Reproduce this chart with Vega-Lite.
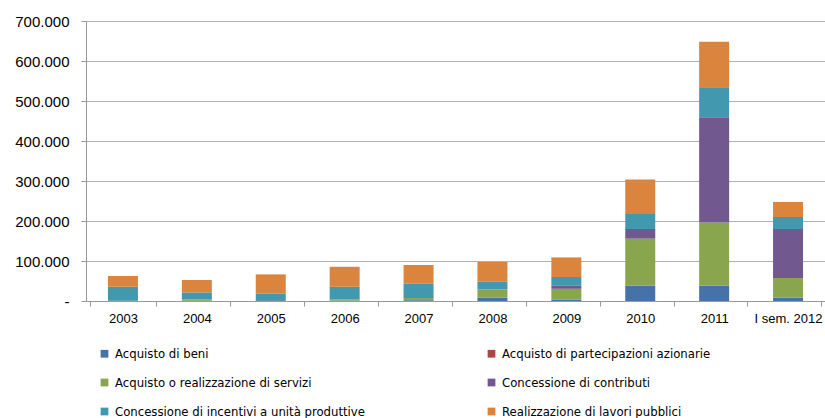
{
  "$schema": "https://vega.github.io/schema/vega-lite/v6.json",
  "width": 739,
  "height": 280,
  "autosize": {"type": "none"},
  "padding": {"left": 86, "top": 21, "right": 0, "bottom": 117},
  "background": "white",
  "config": {
    "view": {"stroke": null},
    "font": "Liberation Sans"
  },
  "data": {
    "values": [
      {"periodo": "2003", "tipo": "Acquisto di beni", "valore": 0},
      {"periodo": "2003", "tipo": "Acquisto di partecipazioni azionarie", "valore": 0},
      {"periodo": "2003", "tipo": "Acquisto o realizzazione di servizi", "valore": 500},
      {"periodo": "2003", "tipo": "Concessione di contributi", "valore": 0},
      {"periodo": "2003", "tipo": "Concessione di incentivi a unità produttive", "valore": 35000},
      {"periodo": "2003", "tipo": "Realizzazione di lavori pubblici", "valore": 27000},

      {"periodo": "2004", "tipo": "Acquisto di beni", "valore": 500},
      {"periodo": "2004", "tipo": "Acquisto di partecipazioni azionarie", "valore": 0},
      {"periodo": "2004", "tipo": "Acquisto o realizzazione di servizi", "valore": 3000},
      {"periodo": "2004", "tipo": "Concessione di contributi", "valore": 0},
      {"periodo": "2004", "tipo": "Concessione di incentivi a unità produttive", "valore": 18000},
      {"periodo": "2004", "tipo": "Realizzazione di lavori pubblici", "valore": 31000},

      {"periodo": "2005", "tipo": "Acquisto di beni", "valore": 2000},
      {"periodo": "2005", "tipo": "Acquisto di partecipazioni azionarie", "valore": 0},
      {"periodo": "2005", "tipo": "Acquisto o realizzazione di servizi", "valore": 500},
      {"periodo": "2005", "tipo": "Concessione di contributi", "valore": 0},
      {"periodo": "2005", "tipo": "Concessione di incentivi a unità produttive", "valore": 16500},
      {"periodo": "2005", "tipo": "Realizzazione di lavori pubblici", "valore": 47500},

      {"periodo": "2006", "tipo": "Acquisto di beni", "valore": 1000},
      {"periodo": "2006", "tipo": "Acquisto di partecipazioni azionarie", "valore": 0},
      {"periodo": "2006", "tipo": "Acquisto o realizzazione di servizi", "valore": 3000},
      {"periodo": "2006", "tipo": "Concessione di contributi", "valore": 500},
      {"periodo": "2006", "tipo": "Concessione di incentivi a unità produttive", "valore": 31000},
      {"periodo": "2006", "tipo": "Realizzazione di lavori pubblici", "valore": 50000},

      {"periodo": "2007", "tipo": "Acquisto di beni", "valore": 2000},
      {"periodo": "2007", "tipo": "Acquisto di partecipazioni azionarie", "valore": 0},
      {"periodo": "2007", "tipo": "Acquisto o realizzazione di servizi", "valore": 6000},
      {"periodo": "2007", "tipo": "Concessione di contributi", "valore": 2000},
      {"periodo": "2007", "tipo": "Concessione di incentivi a unità produttive", "valore": 33000},
      {"periodo": "2007", "tipo": "Realizzazione di lavori pubblici", "valore": 47000},

      {"periodo": "2008", "tipo": "Acquisto di beni", "valore": 8000},
      {"periodo": "2008", "tipo": "Acquisto di partecipazioni azionarie", "valore": 0},
      {"periodo": "2008", "tipo": "Acquisto o realizzazione di servizi", "valore": 21000},
      {"periodo": "2008", "tipo": "Concessione di contributi", "valore": 0},
      {"periodo": "2008", "tipo": "Concessione di incentivi a unità produttive", "valore": 19000},
      {"periodo": "2008", "tipo": "Realizzazione di lavori pubblici", "valore": 49500},

      {"periodo": "2009", "tipo": "Acquisto di beni", "valore": 3000},
      {"periodo": "2009", "tipo": "Acquisto di partecipazioni azionarie", "valore": 0},
      {"periodo": "2009", "tipo": "Acquisto o realizzazione di servizi", "valore": 27500},
      {"periodo": "2009", "tipo": "Concessione di contributi", "valore": 7500},
      {"periodo": "2009", "tipo": "Concessione di incentivi a unità produttive", "valore": 22000},
      {"periodo": "2009", "tipo": "Realizzazione di lavori pubblici", "valore": 49000},

      {"periodo": "2010", "tipo": "Acquisto di beni", "valore": 38000},
      {"periodo": "2010", "tipo": "Acquisto di partecipazioni azionarie", "valore": 0},
      {"periodo": "2010", "tipo": "Acquisto o realizzazione di servizi", "valore": 118000},
      {"periodo": "2010", "tipo": "Concessione di contributi", "valore": 24000},
      {"periodo": "2010", "tipo": "Concessione di incentivi a unità produttive", "valore": 37500},
      {"periodo": "2010", "tipo": "Realizzazione di lavori pubblici", "valore": 86500},

      {"periodo": "2011", "tipo": "Acquisto di beni", "valore": 38000},
      {"periodo": "2011", "tipo": "Acquisto di partecipazioni azionarie", "valore": 0},
      {"periodo": "2011", "tipo": "Acquisto o realizzazione di servizi", "valore": 158500},
      {"periodo": "2011", "tipo": "Concessione di contributi", "valore": 263000},
      {"periodo": "2011", "tipo": "Concessione di incentivi a unità produttive", "valore": 75000},
      {"periodo": "2011", "tipo": "Realizzazione di lavori pubblici", "valore": 113500},

      {"periodo": "I sem. 2012", "tipo": "Acquisto di beni", "valore": 8000},
      {"periodo": "I sem. 2012", "tipo": "Acquisto di partecipazioni azionarie", "valore": 0},
      {"periodo": "I sem. 2012", "tipo": "Acquisto o realizzazione di servizi", "valore": 49500},
      {"periodo": "I sem. 2012", "tipo": "Concessione di contributi", "valore": 122500},
      {"periodo": "I sem. 2012", "tipo": "Concessione di incentivi a unità produttive", "valore": 30000},
      {"periodo": "I sem. 2012", "tipo": "Realizzazione di lavori pubblici", "valore": 37500}
    ]
  },
  "mark": {"type": "bar", "size": 30},
  "encoding": {
    "x": {
      "field": "periodo",
      "type": "nominal",
      "sort": null,
      "title": null,
      "axis": {
        "labelAngle": 0,
        "labelFontSize": 13,
        "labelColor": "#000000",
        "labelPadding": 6,
        "domainColor": "#999999",
        "tickColor": "#999999",
        "tickBand": "extent",
        "tickSize": 5,
        "grid": false
      }
    },
    "y": {
      "field": "valore",
      "type": "quantitative",
      "stack": "zero",
      "title": null,
      "scale": {"domain": [0, 700000], "nice": false},
      "axis": {
        "values": [0, 100000, 200000, 300000, 400000, 500000, 600000, 700000],
        "labelExpr": "datum.value == 0 ? '-' : replace(format(datum.value, ','), ',', '.')",
        "labelFontSize": 15,
        "labelColor": "#000000",
        "labelPadding": 12,
        "domain": true,
        "domainColor": "#999999",
        "tickColor": "#999999",
        "tickSize": 5,
        "gridColor": "#b0b0b0",
        "gridWidth": 1
      }
    },
    "order": {"field": "tipo", "sort": "ascending"},
    "color": {
      "field": "tipo",
      "type": "nominal",
      "title": null,
      "scale": {
        "domain": [
          "Acquisto di beni",
          "Acquisto di partecipazioni azionarie",
          "Acquisto o realizzazione di servizi",
          "Concessione di contributi",
          "Concessione di incentivi a unità produttive",
          "Realizzazione di lavori pubblici"
        ],
        "range": ["#4572A7", "#AA4643", "#89A54E", "#71588F", "#4198AF", "#DB843D"]
      },
      "legend": {
        "orient": "bottom",
        "direction": "horizontal",
        "columns": 2,
        "columnPadding": 120,
        "rowPadding": 15,
        "offset": 10,
        "padding": 12,
        "symbolType": "square",
        "symbolSize": 60,
        "symbolStrokeWidth": 0,
        "labelFont": "DejaVu Sans Condensed, Liberation Sans",
        "labelFontSize": 13,
        "labelColor": "#000000",
        "labelLimit": 400
      }
    }
  }
}
